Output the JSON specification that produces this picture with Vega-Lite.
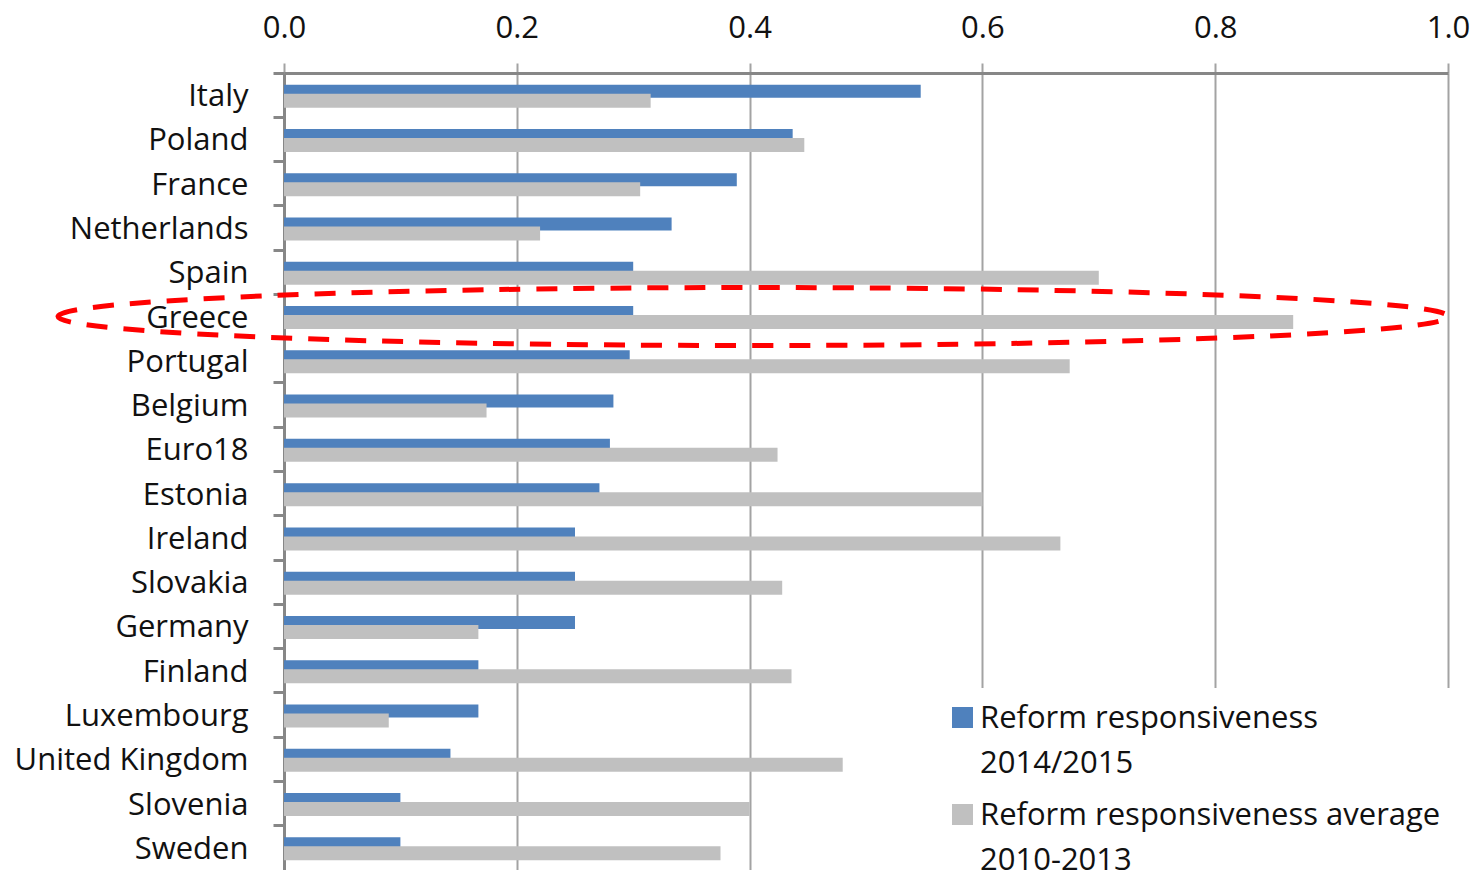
{
  "$schema": "https://vega.github.io/schema/vega-lite/v6.json",
  "width": 1164,
  "height": 797,
  "autosize": "none",
  "padding": {"left": 284, "top": 73, "right": 25, "bottom": 0},
  "background": "white",
  "config": {
    "font": "Open Sans",
    "view": {"stroke": null},
    "axis": {"labelColor": "#111111", "labelFontSize": 31, "labelFont": "Open Sans", "titleFontSize": 31},
    "legend": {"labelColor": "#111111", "labelFontSize": 31, "labelFont": "Open Sans"}
  },
  "data": {
    "values": [
      {"country": "Italy", "recent": 0.547, "average": 0.315},
      {"country": "Poland", "recent": 0.437, "average": 0.447},
      {"country": "France", "recent": 0.389, "average": 0.306},
      {"country": "Netherlands", "recent": 0.333, "average": 0.22},
      {"country": "Spain", "recent": 0.3, "average": 0.7},
      {"country": "Greece", "recent": 0.3, "average": 0.867},
      {"country": "Portugal", "recent": 0.297, "average": 0.675},
      {"country": "Belgium", "recent": 0.283, "average": 0.174},
      {"country": "Euro18", "recent": 0.28, "average": 0.424},
      {"country": "Estonia", "recent": 0.271, "average": 0.6},
      {"country": "Ireland", "recent": 0.25, "average": 0.667},
      {"country": "Slovakia", "recent": 0.25, "average": 0.428},
      {"country": "Germany", "recent": 0.25, "average": 0.167},
      {"country": "Finland", "recent": 0.167, "average": 0.436},
      {"country": "Luxembourg", "recent": 0.167, "average": 0.09},
      {"country": "United Kingdom", "recent": 0.143, "average": 0.48},
      {"country": "Slovenia", "recent": 0.1, "average": 0.4},
      {"country": "Sweden", "recent": 0.1, "average": 0.375}
    ]
  },
  "resolve": {"axis": {"y": "independent"}},
  "layer": [
    {
      "mark": {"type": "bar", "height": 13, "yOffset": -4},
      "encoding": {
        "y": {
          "field": "country",
          "type": "nominal",
          "sort": null,
          "scale": {"paddingInner": 0, "paddingOuter": 0},
          "axis": {
            "orient": "left",
            "title": null,
            "ticks": false,
            "domain": false,
            "labelPadding": 36,
            "labelOffset": 2,
            "labelLimit": 400
          }
        },
        "x": {
          "field": "recent",
          "type": "quantitative",
          "scale": {"domain": [0, 1], "nice": false},
          "axis": {
            "orient": "top",
            "title": null,
            "values": [0, 0.2, 0.4, 0.6, 0.8, 1],
            "format": ".1f",
            "grid": true,
            "gridColor": "#a3a3a3",
            "gridWidth": 2,
            "ticks": true,
            "tickSize": 10,
            "tickColor": "#a3a3a3",
            "tickWidth": 2,
            "domainColor": "#878787",
            "domainWidth": 3,
            "labelPadding": 19,
            "labelFlush": false
          }
        },
        "color": {
          "datum": "Reform responsiveness 2014/2015",
          "scale": {
            "domain": ["Reform responsiveness 2014/2015", "Reform responsiveness average 2010-2013"],
            "range": ["#4f81bd", "#c0c0c0"]
          },
          "legend": {
            "orient": "none",
            "legendX": 649,
            "legendY": 615,
            "title": null,
            "padding": 14,
            "fillColor": "white",
            "symbolType": "square",
            "symbolSize": 441,
            "symbolStrokeWidth": 0,
            "labelOffset": 2,
            "labelLimit": 700,
            "rowPadding": 20,
            "labelBaseline": "alphabetic",
            "labelExpr": "[slice(datum.label, 0, lastindexof(datum.label, ' ')), slice(datum.label, lastindexof(datum.label, ' ') + 1)]",
            "encoding": {
              "labels": {
                "lineHeight": {"value": 45},
                "dy": {"value": 10}
              }
            }
          }
        }
      }
    },
    {
      "mark": {"type": "bar", "height": 14, "yOffset": 5.5},
      "encoding": {
        "y": {
          "field": "country",
          "type": "nominal",
          "sort": null,
          "axis": {
            "orient": "left",
            "title": null,
            "labels": false,
            "ticks": true,
            "tickSize": 11,
            "tickWidth": 3,
            "tickColor": "#878787",
            "bandPosition": 0,
            "domain": true,
            "domainColor": "#878787",
            "domainWidth": 3,
            "grid": false
          }
        },
        "x": {"field": "average", "type": "quantitative"},
        "color": {"datum": "Reform responsiveness average 2010-2013"}
      }
    },
    {
      "transform": [{"filter": "datum.country === 'Greece'"}],
      "mark": {
        "type": "point",
        "shape": "M-1,0C-1,-0.02305,-0.5523,-0.04173,0,-0.04173C0.5523,-0.04173,1,-0.02305,1,0C1,0.02305,0.5523,0.04173,0,0.04173C-0.5523,0.04173,-1,0.02305,-1,0Z",
        "size": 1932100,
        "filled": false,
        "stroke": "#ff0000",
        "strokeWidth": 5,
        "strokeDash": [21, 16],
        "opacity": 1
      },
      "encoding": {
        "y": {"field": "country", "type": "nominal", "sort": null, "axis": null},
        "x": {"datum": 0.4029, "type": "quantitative"}
      }
    }
  ]
}
